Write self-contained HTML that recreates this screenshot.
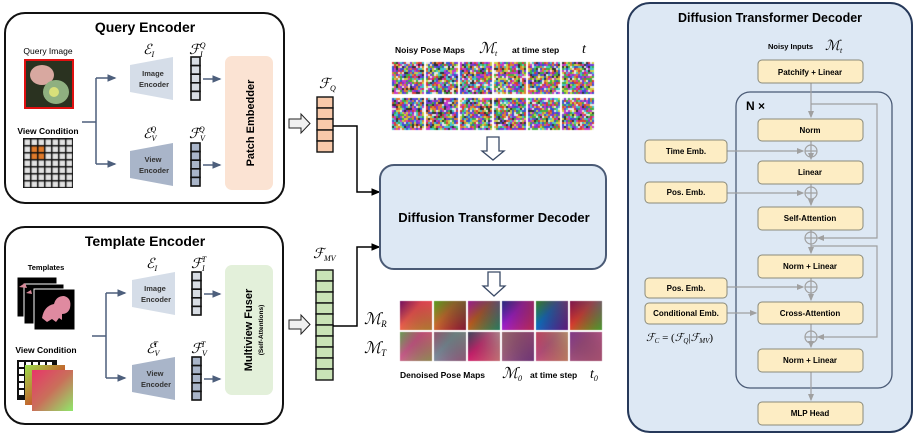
<!DOCTYPE html>
<html><head><meta charset="utf-8"><style>
body{margin:0;background:#fff;width:917px;height:437px;overflow:hidden}
svg{position:absolute;left:0;top:0}
text{font-family:"Liberation Sans",sans-serif}
.b{font-weight:bold}
.m{font-family:"Liberation Serif",serif;font-style:italic}
canvas{position:absolute}
</style></head><body>
<svg width="917" height="437" viewBox="0 0 917 437">
<defs>
<marker id="a" markerWidth="6" markerHeight="6" refX="5" refY="3" orient="auto"><path d="M0,0.5 L6,3 L0,5.5z" fill="#4d5f7c"/></marker>
<marker id="k" markerWidth="6" markerHeight="6" refX="5" refY="3" orient="auto"><path d="M0,0.5 L6,3 L0,5.5z" fill="#000"/></marker>
<marker id="g" markerWidth="6" markerHeight="6" refX="5" refY="3" orient="auto"><path d="M0,0.5 L6,3 L0,5.5z" fill="#a0a0a0"/></marker>
<linearGradient id="gg" x1="0" y1="0" x2="1" y2="1"><stop offset="0" stop-color="#9ce04a"/><stop offset="0.6" stop-color="#c7582c"/><stop offset="1" stop-color="#2f5d3a"/></linearGradient>
<linearGradient id="pg" x1="0" y1="0" x2="1" y2="1"><stop offset="0" stop-color="#e8356a"/><stop offset="0.5" stop-color="#c9705a"/><stop offset="1" stop-color="#8fe86a"/></linearGradient>
</defs>

<!-- Query Encoder -->
<rect x="5" y="13" width="279" height="190" rx="20" fill="#fff" stroke="#111" stroke-width="2"/>
<text x="145" y="32" text-anchor="middle" class="b" font-size="14">Query Encoder</text>
<text x="48" y="54" text-anchor="middle" font-size="8.5">Query Image</text>
<rect x="25" y="60" width="48" height="48" fill="#2a3220" stroke="#e01010" stroke-width="2"/>
<ellipse cx="42" cy="75" rx="12" ry="10" fill="#d8a8a0"/>
<ellipse cx="56" cy="92" rx="13" ry="12" fill="#8fb080"/>
<circle cx="54" cy="92" r="5" fill="#d9e07a"/>
<text x="48" y="134" text-anchor="middle" class="b" font-size="8.5">View Condition</text>
<rect x="23" y="138" width="50" height="50" fill="#111"/>
<path d="M82,122 H96 M96,78 V164" stroke="#4d5f7c" stroke-width="1.5" fill="none"/>
<path d="M96,78 H115" stroke="#4d5f7c" stroke-width="1.5" marker-end="url(#a)"/>
<path d="M96,164 H115" stroke="#4d5f7c" stroke-width="1.5" marker-end="url(#a)"/>
<polygon points="130,65 173,57 173,100 130,92" fill="#d5dde8"/>
<text x="153" y="76" text-anchor="middle" font-size="7.5" class="b" fill="#333">Image</text>
<text x="154" y="87" text-anchor="middle" font-size="7.5" class="b" fill="#333">Encoder</text>
<polygon points="130,151 173,143 173,186 130,178" fill="#a9b5c9"/>
<text x="153" y="162" text-anchor="middle" font-size="7.5" class="b" fill="#333">View</text>
<text x="154" y="173" text-anchor="middle" font-size="7.5" class="b" fill="#333">Encoder</text>
<text x="143" y="54" class="m" font-size="14">ℰ<tspan font-size="8" dy="3">I</tspan></text>
<text x="143" y="138" class="m" font-size="14">ℰ<tspan font-size="8" dy="3">V</tspan><tspan font-size="8" dy="-9" dx="-6">Q</tspan></text>
<text x="189" y="54" class="m" font-size="14">ℱ<tspan font-size="8" dy="3">I</tspan><tspan font-size="8" dy="-9" dx="-3">Q</tspan></text>
<text x="189" y="138" class="m" font-size="14">ℱ<tspan font-size="8" dy="3">V</tspan><tspan font-size="8" dy="-9" dx="-6">Q</tspan></text>
<g stroke="#111" stroke-width="1.6" fill="#d8dde4">
<rect x="191" y="57" width="9" height="8.6"/><rect x="191" y="65.6" width="9" height="8.6"/><rect x="191" y="74.2" width="9" height="8.6"/><rect x="191" y="82.8" width="9" height="8.6"/><rect x="191" y="91.4" width="9" height="8.6"/>
</g>
<g stroke="#111" stroke-width="1.6" fill="#a9b5c9">
<rect x="191" y="143" width="9" height="8.6"/><rect x="191" y="151.6" width="9" height="8.6"/><rect x="191" y="160.2" width="9" height="8.6"/><rect x="191" y="168.8" width="9" height="8.6"/><rect x="191" y="177.4" width="9" height="8.6"/>
</g>
<path d="M203,79 H220" stroke="#4d5f7c" stroke-width="1.5" marker-end="url(#a)"/>
<path d="M203,165 H220" stroke="#4d5f7c" stroke-width="1.5" marker-end="url(#a)"/>
<rect x="225" y="56" width="48" height="134" rx="7" fill="#fbe3d3"/>
<text transform="translate(254,123) rotate(-90)" text-anchor="middle" class="b" font-size="11">Patch Embedder</text>

<!-- Template Encoder -->
<rect x="5" y="227" width="278" height="197" rx="20" fill="#fff" stroke="#111" stroke-width="2"/>
<text x="145" y="246" text-anchor="middle" class="b" font-size="14">Template Encoder</text>
<text x="46" y="270" text-anchor="middle" class="b" font-size="7.5">Templates</text>
<rect x="17" y="277" width="40" height="40" fill="#000" stroke="#fff" stroke-width="1"/>
<rect x="24" y="284" width="40" height="40" fill="#000" stroke="#fff" stroke-width="1"/>
<rect x="34" y="289" width="41" height="41" fill="#000" stroke="#fff" stroke-width="1"/>
<path d="M19,287 l6,-4 2,5z M26,293 l5,-3 1,4z" fill="#d98a9a"/>
<path d="M42,318 q2,-12 12,-14 q2,-8 10,-8 q8,2 6,12 q-2,6 -8,6 l0,6 l-3,-2 l-3,4 l-4,-3 l-5,3z" fill="#df8aa0"/>
<text x="46" y="353" text-anchor="middle" class="b" font-size="8.5">View Condition</text>
<rect x="17" y="360" width="40" height="40" fill="#111"/>
<g fill="#fff"><rect x="19" y="362" width="5" height="5"/><rect x="26" y="362" width="5" height="5"/><rect x="33" y="362" width="5" height="5"/><rect x="40" y="362" width="5" height="5"/><rect x="47" y="362" width="5" height="5"/><rect x="19" y="369" width="5" height="5"/><rect x="19" y="376" width="5" height="5"/><rect x="19" y="383" width="5" height="5"/><rect x="19" y="390" width="5" height="5"/></g>
<rect x="25" y="365" width="40" height="40" fill="url(#gg)"/>
<rect x="32" y="370" width="41" height="41" fill="url(#pg)"/>
<path d="M92,336 H106 M106,293 V378" stroke="#4d5f7c" stroke-width="1.5" fill="none"/>
<path d="M106,293 H125" stroke="#4d5f7c" stroke-width="1.5" marker-end="url(#a)"/>
<path d="M106,378 H125" stroke="#4d5f7c" stroke-width="1.5" marker-end="url(#a)"/>
<polygon points="132,280 175,272 175,315 132,307" fill="#d5dde8"/>
<text x="155" y="291" text-anchor="middle" font-size="7.5" class="b" fill="#333">Image</text>
<text x="156" y="302" text-anchor="middle" font-size="7.5" class="b" fill="#333">Encoder</text>
<polygon points="132,365 175,357 175,400 132,392" fill="#a9b5c9"/>
<text x="155" y="376" text-anchor="middle" font-size="7.5" class="b" fill="#333">View</text>
<text x="156" y="387" text-anchor="middle" font-size="7.5" class="b" fill="#333">Encoder</text>
<text x="146" y="268" class="m" font-size="14">ℰ<tspan font-size="8" dy="3">I</tspan></text>
<text x="146" y="353" class="m" font-size="14">ℰ<tspan font-size="8" dy="3">V</tspan><tspan font-size="8" dy="-9" dx="-6">T</tspan></text>
<text x="191" y="268" class="m" font-size="14">ℱ<tspan font-size="8" dy="3">I</tspan><tspan font-size="8" dy="-9" dx="-3">T</tspan></text>
<text x="191" y="353" class="m" font-size="14">ℱ<tspan font-size="8" dy="3">V</tspan><tspan font-size="8" dy="-9" dx="-6">T</tspan></text>
<g stroke="#111" stroke-width="1.6" fill="#d8dde4">
<rect x="192" y="272" width="9" height="8.6"/><rect x="192" y="280.6" width="9" height="8.6"/><rect x="192" y="289.2" width="9" height="8.6"/><rect x="192" y="297.8" width="9" height="8.6"/><rect x="192" y="306.4" width="9" height="8.6"/>
</g>
<g stroke="#111" stroke-width="1.6" fill="#a9b5c9">
<rect x="192" y="357" width="9" height="8.6"/><rect x="192" y="365.6" width="9" height="8.6"/><rect x="192" y="374.2" width="9" height="8.6"/><rect x="192" y="382.8" width="9" height="8.6"/><rect x="192" y="391.4" width="9" height="8.6"/>
</g>
<path d="M204,294 H220" stroke="#4d5f7c" stroke-width="1.5" marker-end="url(#a)"/>
<path d="M204,379 H220" stroke="#4d5f7c" stroke-width="1.5" marker-end="url(#a)"/>
<rect x="225" y="265" width="48" height="130" rx="7" fill="#e3f0da"/>
<text transform="translate(252,330) rotate(-90)" text-anchor="middle" class="b" font-size="11">Multiview Fuser</text>
<text transform="translate(263,330) rotate(-90)" text-anchor="middle" class="b" font-size="6.5">(Self-Attentions)</text>

<path d="M289,119 H301 V114 L310,123.5 L301,133 V128 H289z" fill="#f0f0f0" stroke="#222" stroke-width="1"/>
<path d="M289,320 H301 V315 L310,324.5 L301,334 V329 H289z" fill="#f0f0f0" stroke="#222" stroke-width="1"/>

<text x="319" y="88" class="m" font-size="14">ℱ<tspan font-size="8" dy="3">Q</tspan></text>
<g stroke="#111" stroke-width="1.4" fill="#f8c9aa">
<rect x="317" y="97" width="16" height="11"/><rect x="317" y="108" width="16" height="11"/><rect x="317" y="119" width="16" height="11"/><rect x="317" y="130" width="16" height="11"/><rect x="317" y="141" width="16" height="11"/>
</g>
<path d="M333,126 H357 V192 H379" stroke="#000" stroke-width="1.5" fill="none" marker-end="url(#k)"/>
<text x="313" y="258" class="m" font-size="14">ℱ<tspan font-size="8" dy="3">MV</tspan></text>
<g stroke="#111" stroke-width="1.4" fill="#c9e3b6">
<rect x="316" y="270" width="17" height="11"/><rect x="316" y="281" width="17" height="11"/><rect x="316" y="292" width="17" height="11"/><rect x="316" y="303" width="17" height="11"/><rect x="316" y="314" width="17" height="11"/><rect x="316" y="325" width="17" height="11"/><rect x="316" y="336" width="17" height="11"/><rect x="316" y="347" width="17" height="11"/><rect x="316" y="358" width="17" height="11"/><rect x="316" y="369" width="17" height="11"/>
</g>
<path d="M333,326 H357 V247 H379" stroke="#000" stroke-width="1.5" fill="none" marker-end="url(#k)"/>

<rect x="380" y="165" width="226" height="104" rx="14" fill="#dde8f4" stroke="#4a5a75" stroke-width="2"/>
<text x="494" y="222" text-anchor="middle" class="b" font-size="13">Diffusion Transformer Decoder</text>
<text x="395" y="53" class="b" font-size="8.5">Noisy Pose Maps</text>
<text x="479" y="53" class="m" font-size="15">ℳ<tspan font-size="8" dy="3">t</tspan></text>
<text x="512" y="53" class="b" font-size="8.5">at time step</text>
<text x="582" y="53" class="m" font-size="14">t</text>
<path d="M487,137 H499 V151 H504 L493,160 L482,151 H487z" fill="#fff" stroke="#3a4a66" stroke-width="1.3"/>
<path d="M488,272 H500 V286 H505 L494,296 L483,286 H488z" fill="#fff" stroke="#3a4a66" stroke-width="1.3"/>
<text x="364" y="324" class="m" font-size="16">ℳ<tspan font-size="9" dy="3">R</tspan></text>
<text x="364" y="353" class="m" font-size="16">ℳ<tspan font-size="9" dy="3">T</tspan></text>
<text x="400" y="378" class="b" font-size="8.5">Denoised Pose Maps</text>
<text x="502" y="378" class="m" font-size="15">ℳ<tspan font-size="8" dy="3">0</tspan></text>
<text x="530" y="378" class="b" font-size="8.5">at time step</text>
<text x="590" y="378" class="m" font-size="14">t<tspan font-size="8" dy="3">0</tspan></text>

<rect x="628" y="3" width="284" height="429" rx="22" fill="#dde8f4" stroke="#26395a" stroke-width="2"/>
<text x="770" y="22" text-anchor="middle" class="b" font-size="12.5">Diffusion Transformer Decoder</text>
<text x="768" y="49" class="b" font-size="7.5">Noisy Inputs</text>
<text x="825" y="50" class="m" font-size="14">ℳ<tspan font-size="8" dy="3">t</tspan></text>
<rect x="736" y="92" width="156" height="296" rx="14" fill="none" stroke="#4a5a75" stroke-width="1.3"/>
<text x="746" y="110" class="b" font-size="12">N ×</text>
<g stroke="#a0a0a0" stroke-width="1.2" fill="none">
<path d="M811,83 V117" marker-end="url(#g)"/>
<path d="M811,104 H877 V238 H818" marker-end="url(#g)"/>
<path d="M811,141 V145"/><path d="M811,157 V159" marker-end="url(#g)"/>
<path d="M727,151 H803" marker-end="url(#g)"/>
<path d="M811,184 V187"/><path d="M811,199 V205" marker-end="url(#g)"/>
<path d="M727,193 H803" marker-end="url(#g)"/>
<path d="M811,230 V232"/><path d="M811,244 V253" marker-end="url(#g)"/>
<path d="M811,246 H877 V337 H818" marker-end="url(#g)"/>
<path d="M811,278 V281"/><path d="M811,293 V300" marker-end="url(#g)"/>
<path d="M727,287 H803" marker-end="url(#g)"/>
<path d="M727,313 H756" marker-end="url(#g)"/>
<path d="M811,324 V331"/><path d="M811,343 V347" marker-end="url(#g)"/>
<path d="M811,372 V400" marker-end="url(#g)"/>
<circle cx="811" cy="151" r="6"/><path d="M805,151 H817 M811,145 V157"/>
<circle cx="811" cy="193" r="6"/><path d="M805,193 H817 M811,187 V199"/>
<circle cx="811" cy="238" r="6"/><path d="M805,238 H817 M811,232 V244"/>
<circle cx="811" cy="287" r="6"/><path d="M805,287 H817 M811,281 V293"/>
<circle cx="811" cy="337" r="6"/><path d="M805,337 H817 M811,331 V343"/>
</g>
<g fill="#fdedc4" stroke="#8a8a7a" stroke-width="1">
<rect x="758" y="60" width="105" height="23" rx="4"/>
<rect x="758" y="119" width="105" height="22" rx="4"/>
<rect x="758" y="161" width="105" height="23" rx="4"/>
<rect x="758" y="207" width="105" height="23" rx="4"/>
<rect x="758" y="255" width="105" height="23" rx="4"/>
<rect x="758" y="302" width="105" height="22" rx="4"/>
<rect x="758" y="349" width="105" height="23" rx="4"/>
<rect x="758" y="402" width="105" height="23" rx="4"/>
<rect x="645" y="140" width="82" height="23" rx="4"/>
<rect x="645" y="182" width="82" height="21" rx="4"/>
<rect x="645" y="278" width="82" height="20" rx="4"/>
<rect x="645" y="303" width="82" height="21" rx="4"/>
</g>
<g font-size="8" text-anchor="middle">
<text x="810" y="75" class="b">Patchify + Linear</text>
<text x="810" y="133" class="b">Norm</text>
<text x="810" y="175" class="b">Linear</text>
<text x="810" y="221" class="b">Self-Attention</text>
<text x="810" y="269" class="b">Norm + Linear</text>
<text x="810" y="316" class="b">Cross-Attention</text>
<text x="810" y="363" class="b">Norm + Linear</text>
<text x="810" y="416" class="b">MLP Head</text>
<text x="686" y="154" class="b">Time Emb.</text>
<text x="686" y="195" class="b">Pos. Emb.</text>
<text x="686" y="291" class="b">Pos. Emb.</text>
<text x="686" y="316" class="b">Conditional Emb.</text>
</g>
<text x="646" y="341" class="m" font-size="11">ℱ<tspan font-size="7" dy="2">C</tspan><tspan dy="-2" font-style="normal"> = (</tspan>ℱ<tspan font-size="7" dy="2">Q</tspan><tspan dy="-2" font-style="normal">|</tspan>ℱ<tspan font-size="7" dy="2">MV</tspan><tspan dy="-2" font-style="normal">)</tspan></text>
</svg>
<canvas id="c1" width="917" height="437" style="left:0;top:0"></canvas>
<script>
var c=document.getElementById('c1').getContext('2d');
for(var i=0;i<7;i++)for(var j=0;j<7;j++){c.fillStyle=((i==1||i==2)&&(j==1||j==2))?'#e07a2a':'#e2e2e2';c.fillRect(24.5+j*7,139.5+i*7,5.5,5.5);}
var s=1;function r(){s=(s*16807)%2147483647;return s/2147483647;}
var pal=['#d83838','#40b040','#3850d0','#d0d040','#c838c8','#40c8c8','#e8e8e8','#303030','#e08030','#7838d8'];
for(var row=0;row<2;row++)for(var col=0;col<6;col++){var x0=392+col*34,y0=62+row*36;
for(var i=0;i<16;i++)for(var j=0;j<16;j++){c.fillStyle=pal[Math.floor(r()*pal.length)];c.fillRect(x0+j*2,y0+i*2,2,2);}}
var R=[['#7a1070','#f06050','#e02060','#c0a030'],['#70c020','#d07030','#205a30','#b01040'],['#c020a0','#c06020','#2030b0','#30a060'],['#2030a0','#a020d0','#803010','#e03070'],['#30a030','#1070c0','#b01020','#6020a0'],['#a01050','#e04030','#2060a0','#60c020']];
var T=[['#70c060','#d06090','#c04060','#a0b060'],['#b06080','#8090a0','#608060','#b06090'],['#404060','#d02070','#80d0a0','#f07080'],['#b08080','#a06080','#803060','#804090'],['#e04070','#c05080','#a0c060','#e08070'],['#9040a0','#a05080','#b05080','#c06080']];
function grad(x,y,w,h,k){var g=c.createLinearGradient(x,y,x+w,y+h);g.addColorStop(0,k[0]);g.addColorStop(0.4,k[1]);g.addColorStop(1,k[3]);c.fillStyle=g;c.fillRect(x,y,w,h);var g2=c.createLinearGradient(x+w,y,x,y+h);g2.addColorStop(0,k[2]);g2.addColorStop(1,'rgba(0,0,0,0)');c.globalAlpha=0.5;c.fillStyle=g2;c.fillRect(x,y,w,h);c.globalAlpha=1;}
for(var k=0;k<6;k++){grad(400+k*34,301,32,29,R[k]);grad(400+k*34,332,32,29,T[k]);}
</script>
</body></html>
